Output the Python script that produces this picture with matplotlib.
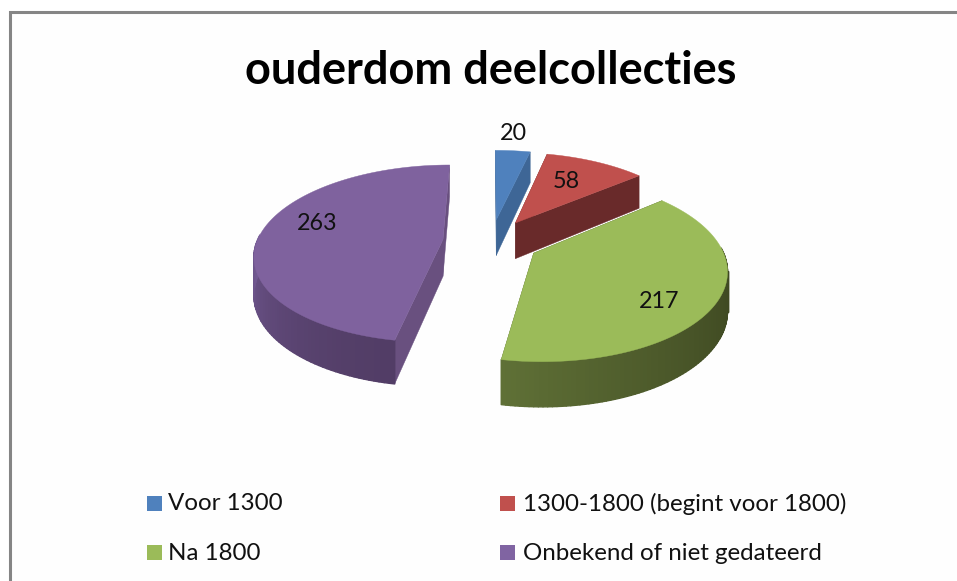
import numpy as np
import matplotlib
matplotlib.use("Agg")
import matplotlib.pyplot as plt
from matplotlib.collections import PolyCollection
from matplotlib.patches import Polygon, Rectangle

title = "ouderdom deelcollecties"
categories = ["Voor 1300", "1300-1800 (begint voor 1800)", "Na 1800", "Onbekend of niet gedateerd"]
values = [20, 58, 217, 263]

top_colors = ["#4f81bd", "#c0504d", "#9bbb59", "#7f629e"]
swatch_colors = ["#4f81bd", "#c0504d", "#9bbb59", "#8064a2"]
side_colors = ["#3e6696", "#692a2a", "#4a5a28", "#69507f"]
# rim gradient over the visible part of each slice
rim_start = ["#3e6696", "#692a2a", "#3d4721", "#523d66"]
rim_end = ["#3e6696", "#692a2a", "#5f7036", "#735a94"]
label_pos = [(513, 133), (566, 181), (659, 302), (317, 223)]
legend_pos = [(147, 504, 168), (500, 504, 523), (147, 553, 168), (500, 553, 523)]

# projection of the tilted pie to pixels
VX, VY = 491, 241.5
A, B = 186, 87
PERSP = 0.16
EXPLODE = 0.26
DEPTH = 37

plt.rcParams["font.family"] = ["Lato", "DejaVu Sans"]


def project(x, v, down=0.0):
  s = 1 / (1 + PERSP * v)
  return VX + A * x * s, VY - B * v * s + down * DEPTH * s


def rim_points(t, cx, cv, down=0.0):
  return np.column_stack(project(cx + np.sin(t), cv + np.cos(t), down))


def hexmix(c1, c2, f):
  a = np.array(matplotlib.colors.to_rgb(c1))
  b = np.array(matplotlib.colors.to_rgb(c2))
  return tuple(a + (b - a) * f)


fig = plt.figure(figsize=(9.57, 5.81), dpi=100)
ax = fig.add_axes([0, 0, 1, 1])
ax.set_xlim(0, 957)
ax.set_ylim(581, 0)
ax.axis("off")

# chart frame
ax.add_patch(Rectangle((10, 12), 990, 700, fc="#fefefe", ec="#858585", lw=2.2))

edges = np.cumsum([0] + values) / sum(values) * 2 * np.pi

for i in range(len(values)):
  t0, t1 = edges[i], edges[i + 1]
  mid = (t0 + t1) / 2
  cx, cv = EXPLODE * np.sin(mid), EXPLODE * np.cos(mid)
  t = np.linspace(t0, t1, 120)
  apex = np.array(project(cx, cv))
  apex_low = np.array(project(cx, cv, 1))
  top = rim_points(t, cx, cv)
  low = rim_points(t, cx, cv, 1)
  face = np.vstack([apex, top])
  z = 2 + i * 2

  if i == 1:
    # white gap where the red slice passes in front of the blue one
    ax.add_patch(Polygon(np.vstack([face, low[::-1], apex_low]), fc="white", ec="white", lw=3, zorder=z - 0.5))

  # radial walls
  for wall_t in [t0, t1]:
    p_top = rim_points(np.array([wall_t]), cx, cv)[0]
    p_low = rim_points(np.array([wall_t]), cx, cv, 1)[0]
    ax.add_patch(Polygon([apex, p_top, p_low, apex_low], fc=side_colors[i], ec=side_colors[i], lw=0.3, zorder=z))

  # outer rim, front half only
  quads = []
  for j in range(len(t) - 1):
    if np.cos((t[j] + t[j + 1]) / 2) < 0.05:
      quads.append([top[j], top[j + 1], low[j + 1], low[j]])
  if quads:
    n = len(quads)
    cols = [hexmix(rim_start[i], rim_end[i], (j / max(n - 1, 1)) ** 1.5) for j in range(n)]
    ax.add_collection(PolyCollection(quads, facecolors=cols, edgecolors=cols, linewidths=1.0, zorder=z))

  ax.add_patch(Polygon(face, fc=top_colors[i], ec=top_colors[i], lw=0.3, zorder=z + 0.5))

for v, (x, y) in zip(values, label_pos):
  ax.text(x, y, str(v), ha="center", va="center", fontsize=16.8, color="#111111", zorder=20)

for i, (x, y, tx) in enumerate(legend_pos):
  ax.add_patch(Rectangle((x, y - 8), 15, 15, fc=swatch_colors[i], ec="none"))
  ax.text(tx, y, categories[i], ha="left", va="center", fontsize=17.4, color="#111111")

ax.text(491, 71, title, ha="center", va="center", fontsize=32.5, fontweight="bold", color="black")

fig.savefig("out.png", dpi=100)
